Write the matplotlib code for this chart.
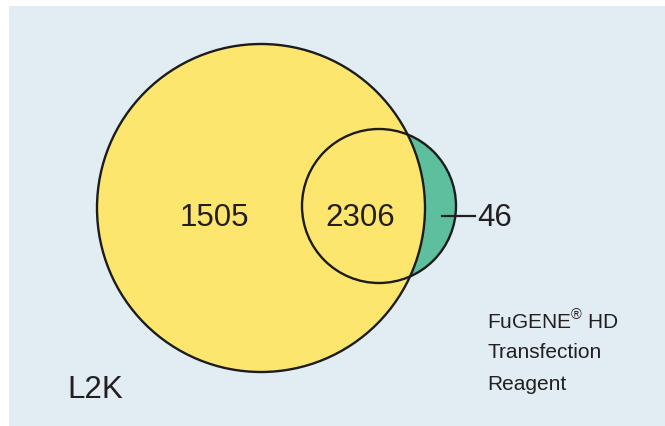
import matplotlib
matplotlib.use('Agg')
import matplotlib.pyplot as plt
from matplotlib.patches import Circle, Rectangle

plt.rcParams['font.family'] = ['Liberation Sans', 'DejaVu Sans']
plt.rcParams['mathtext.fontset'] = 'custom'
plt.rcParams['mathtext.rm'] = 'Liberation Sans'

# Venn counts
set_names = ['L2K', 'FuGENE® HD Transfection Reagent']
only_l2k = 1505
both = 2306
only_fugene = 46

# layout (pixels)
W, H = 665, 426
big = dict(cx=261, cy=208, r=164)
small = dict(cx=379, cy=206, r=77)

fig = plt.figure(figsize=(W / 100, H / 100), dpi=100)
ax = fig.add_axes([0, 0, 1, 1])
ax.set_xlim(0, W)
ax.set_ylim(H, 0)
ax.axis('off')

ax.add_patch(Rectangle((9, 6), W - 9, H - 6, facecolor='#e1edf2', edgecolor='none'))

# fills: green first, yellow on top so overlap reads yellow
ax.add_patch(Circle((small['cx'], small['cy']), small['r'], facecolor='#5dbf9e', edgecolor='none'))
ax.add_patch(Circle((big['cx'], big['cy']), big['r'], facecolor='#fde66e', edgecolor='none'))
# outlines
for c in (big, small):
    ax.add_patch(Circle((c['cx'], c['cy']), c['r'], facecolor='none', edgecolor='#1c1c1c', lw=1.7))

txt = dict(color='#231f20', fontsize=22.5, va='center')
ax.text(214, 218, str(only_l2k), ha='center', **txt)
ax.text(360, 218, str(both), ha='center', **txt)
ax.text(477, 218, str(only_fugene), ha='left', **txt)
ax.plot([442, 475], [216, 216], color='#231f20', lw=1.6)

ax.text(67, 390, set_names[0], ha='left', **txt)

lab = dict(ha='left', va='center', fontsize=15, color='#231f20')
ax.text(487, 321, r'FuGENE$^{®}$ HD', **lab)
ax.text(487, 353, 'Transfection', **lab)
ax.text(487, 384, 'Reagent', **lab)

fig.savefig('out.png', dpi=100, facecolor='white')
